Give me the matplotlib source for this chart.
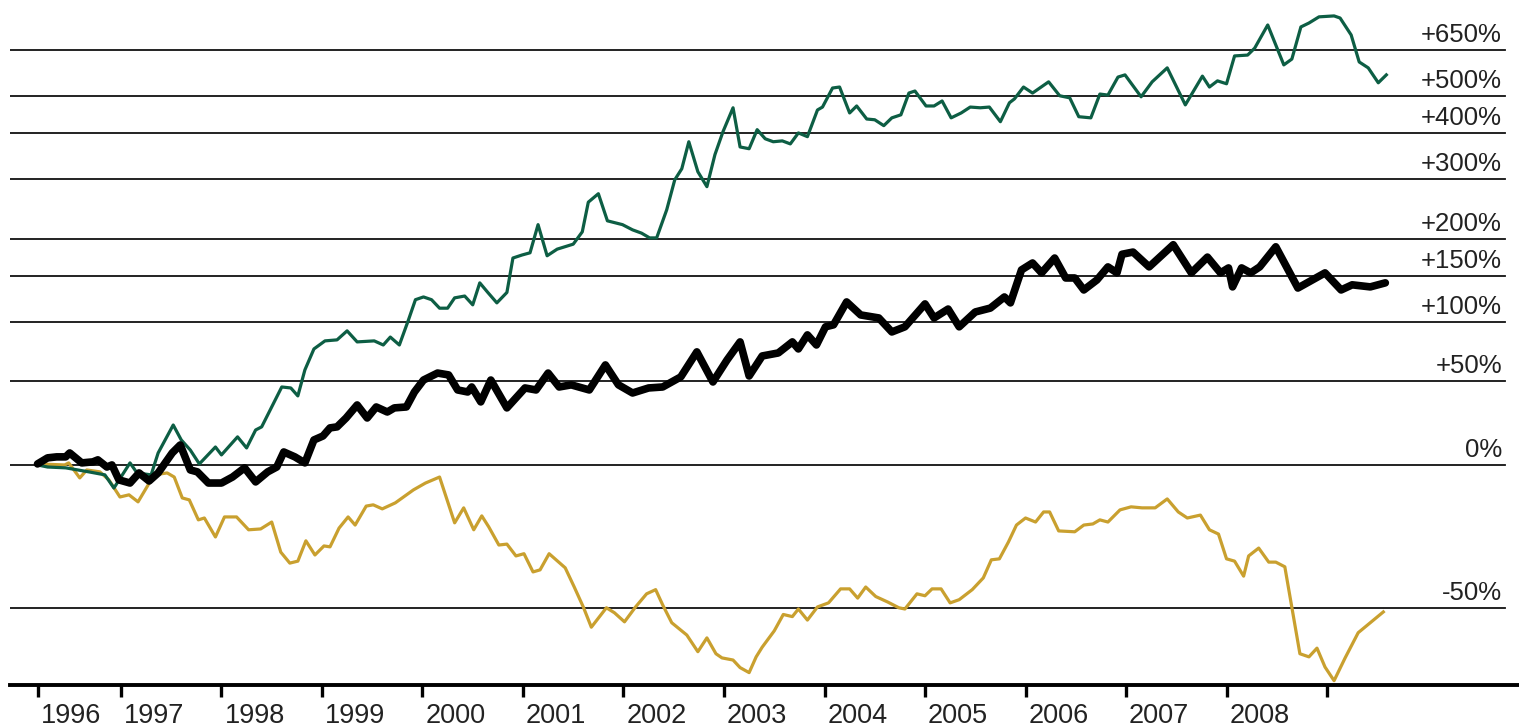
import numpy as np
import matplotlib
matplotlib.use('Agg')
import matplotlib.pyplot as plt
from matplotlib.ticker import NullLocator
from matplotlib.transforms import ScaledTranslation, blended_transform_factory

plt.rcParams['font.family'] = ['Liberation Sans', 'DejaVu Sans']

green_years = [1996.17, 1996.27, 1996.45, 1996.68, 1996.84, 1996.93, 1997.09, 1997.16, 1997.30, 1997.37,
               1997.52, 1997.60, 1997.69, 1997.78, 1997.94, 1998.00, 1998.16, 1998.25, 1998.34, 1998.40,
               1998.60, 1998.69, 1998.76, 1998.83, 1998.92, 1999.03, 1999.15, 1999.25, 1999.35, 1999.52,
               1999.61, 1999.68, 1999.77, 1999.86, 1999.93, 2000.01, 2000.09, 2000.17, 2000.25, 2000.32,
               2000.42, 2000.50, 2000.57, 2000.65, 2000.74, 2000.84, 2000.90, 2000.99, 2001.07, 2001.15,
               2001.24, 2001.34, 2001.50, 2001.59, 2001.65, 2001.75, 2001.84, 2001.99, 2002.09, 2002.18,
               2002.26, 2002.33, 2002.43, 2002.51, 2002.58, 2002.65, 2002.74, 2002.83, 2002.91, 2002.99,
               2003.09, 2003.16, 2003.25, 2003.33, 2003.41, 2003.49, 2003.58, 2003.66, 2003.74, 2003.83,
               2003.93, 2003.98, 2004.08, 2004.15, 2004.25, 2004.32, 2004.42, 2004.50, 2004.59, 2004.67,
               2004.76, 2004.84, 2004.90, 2005.01, 2005.09, 2005.17, 2005.26, 2005.36, 2005.45, 2005.55,
               2005.64, 2005.75, 2005.84, 2005.89, 2005.98, 2006.07, 2006.23, 2006.34, 2006.44, 2006.53,
               2006.65, 2006.74, 2006.82, 2006.92, 2006.99, 2007.15, 2007.26, 2007.41, 2007.59, 2007.76,
               2007.83, 2007.91, 2008.00, 2008.08, 2008.21, 2008.28, 2008.41, 2008.57, 2008.65, 2008.74,
               2008.82, 2008.92, 2009.07, 2009.13, 2009.24, 2009.32, 2009.41, 2009.51, 2009.59]
green_pct = [0, -1, -1.4, -3.3, -4.7, -10.6, 1, -3.8, -4.7, 6,
             21.4, 12.9, 7.5, 0.5, 9.1, 5, 14.6, 8.6, 18.5, 20.3,
             46, 45.3, 39.8, 58.6, 75.6, 82.6, 83.5, 91.7, 81.7, 82.6,
             79, 86, 79, 102, 123, 126, 123, 114, 114, 125,
             127, 117.5, 142, 131, 119.6, 131, 173, 177, 180, 221,
             176, 185, 192, 210, 258, 273, 227, 221, 213, 208,
             201, 201, 245, 299, 321, 380, 315, 286, 351, 404,
             466, 368, 364, 409, 387, 380, 382, 375, 401, 392,
             460, 468, 523, 526, 452, 471, 436, 434, 419, 439,
             447, 508, 514, 471, 471, 485, 439, 452, 468, 466,
             468, 429, 480, 491, 526, 508, 542, 500, 494, 442,
             439, 505, 502, 557, 564, 497, 542, 587, 474, 560,
             526, 545, 536, 628, 631, 656, 746, 597, 617, 738,
             754, 780, 784, 775, 706, 607, 587, 539, 564]

black_years = [1996.17, 1996.27, 1996.36, 1996.45, 1996.49, 1996.61, 1996.72, 1996.77, 1996.86, 1996.91,
               1996.98, 1997.09, 1997.18, 1997.28, 1997.37, 1997.51, 1997.59, 1997.69, 1997.76, 1997.87,
               1998.00, 1998.11, 1998.23, 1998.34, 1998.46, 1998.55, 1998.62, 1998.73, 1998.83, 1998.92,
               1999.01, 1999.08, 1999.15, 1999.24, 1999.35, 1999.45, 1999.54, 1999.65, 1999.72, 1999.84,
               1999.92, 2000.01, 2000.15, 2000.26, 2000.35, 2000.45, 2000.49, 2000.58, 2000.68, 2000.84,
               2001.02, 2001.13, 2001.25, 2001.36, 2001.48, 2001.66, 2001.82, 2001.95, 2002.09, 2002.25,
               2002.39, 2002.57, 2002.73, 2002.89, 2003.03, 2003.16, 2003.25, 2003.38, 2003.54, 2003.68,
               2003.74, 2003.83, 2003.92, 2004.01, 2004.09, 2004.22, 2004.36, 2004.54, 2004.67, 2004.80,
               2005.00, 2005.09, 2005.23, 2005.34, 2005.50, 2005.65, 2005.79, 2005.85, 2005.96, 2006.07,
               2006.16, 2006.29, 2006.40, 2006.49, 2006.58, 2006.71, 2006.82, 2006.91, 2006.96, 2007.07,
               2007.23, 2007.47, 2007.65, 2007.81, 2007.94, 2008.02, 2008.06, 2008.15, 2008.24, 2008.33,
               2008.49, 2008.71, 2008.98, 2009.14, 2009.25, 2009.43, 2009.58]
black_pct = [0.5, 3.5, 4, 4, 6, 1, 1.5, 2.5, -1, 0,
             -7, -8.4, -3.8, -7.5, -3.8, 6, 10.2, -2.4, -3.3, -8.4,
             -8.4, -5.7, -1.4, -7.9, -3.3, -1, 6.5, 4, 1, 12.9,
             15.1, 19.7, 20.3, 25.6, 33.8, 25.6, 32.5, 29.3, 31.9, 32.5,
             42.5, 51, 56.2, 54.8, 43.9, 42.5, 46, 35.8, 51, 31.9,
             45.3, 43.9, 56.2, 46, 47.5, 43.9, 62.5, 47.5, 41.8, 45.3,
             46, 53.3, 73.1, 49.6, 66.4, 81.7, 54, 69.7, 72.2, 81.7,
             75.6, 88, 79, 95.5, 97.4, 120.6, 107.1, 104.1, 90.7, 95.5,
             118.5, 104.1, 113.1, 95.5, 110.1, 114.1, 126, 119.6, 157.7, 166.5,
             154, 173, 147.8, 147.8, 133.8, 145.4, 161.5, 154, 178, 181,
             161.5, 191.2, 154, 174.2, 154, 160.2, 137.3, 160.2, 154, 161.5,
             188.3, 136, 154, 133.8, 139.7, 137.3, 142]

gold_years = [1996.17, 1996.44, 1996.48, 1996.59, 1996.66, 1996.79, 1996.88, 1996.99, 1997.08, 1997.17,
              1997.33, 1997.46, 1997.53, 1997.61, 1997.68, 1997.77, 1997.83, 1997.94, 1998.03, 1998.15,
              1998.27, 1998.39, 1998.50, 1998.59, 1998.68, 1998.76, 1998.84, 1998.93, 1999.02, 1999.08,
              1999.17, 1999.26, 1999.33, 1999.44, 1999.51, 1999.60, 1999.73, 1999.91, 2000.03, 2000.17,
              2000.32, 2000.41, 2000.51, 2000.59, 2000.66, 2000.76, 2000.84, 2000.93, 2001.01, 2001.10,
              2001.17, 2001.26, 2001.42, 2001.51, 2001.60, 2001.68, 2001.83, 2001.91, 2002.01, 2002.12,
              2002.23, 2002.32, 2002.39, 2002.48, 2002.63, 2002.74, 2002.83, 2002.92,
              2002.98, 2003.09, 2003.16, 2003.25, 2003.32, 2003.38, 2003.50, 2003.59, 2003.68, 2003.74,
              2003.83, 2003.93, 2004.04, 2004.16, 2004.25, 2004.33, 2004.41, 2004.51, 2004.63, 2004.74,
              2004.80, 2004.92, 2005.00, 2005.07, 2005.16, 2005.25, 2005.34, 2005.47, 2005.58, 2005.66,
              2005.74, 2005.83, 2005.91, 2006.00, 2006.10, 2006.18, 2006.24, 2006.33, 2006.49, 2006.58,
              2006.67, 2006.74, 2006.82, 2006.94, 2007.05, 2007.16, 2007.29, 2007.41, 2007.52, 2007.61,
              2007.74, 2007.83, 2007.92, 2008.00, 2008.08, 2008.17, 2008.22, 2008.32, 2008.42, 2008.49,
              2008.58, 2008.73, 2008.82, 2008.90, 2008.98, 2009.07, 2009.18, 2009.31, 2009.43, 2009.56]
gold_pct = [0.5, 0, 1, -6.1, -2.4, -3.3, -7, -14.4, -13.5, -16.4,
            -4.7, -3.8, -5.7, -14.8, -15.6, -23.4, -22.7, -29.5, -22.3, -22.3,
            -27, -26.7, -24.2, -34.5, -37.9, -37.3, -30.8, -35.4, -32.5, -32.8,
            -26.4, -22.3, -25.3, -18.1, -17.6, -19.2, -16.8, -11.4, -8.4, -5.7,
            -24.5, -18.8, -27, -21.9, -26, -32.2, -31.9, -35.7, -35, -40.5,
            -39.9, -35, -39.3, -44.7, -49.8, -54.5, -50, -51.2, -53.3, -49.8,
            -46.5, -45.4, -49.3, -53.5, -56.2, -59.6, -56.8, -60.0,
            -60.8, -61.2, -62.6, -63.5, -60.6, -58.7, -55.3, -51.6, -52.1, -50.3,
            -52.9, -49.8, -48.8, -45.2, -45.2, -47.6, -44.7, -47.2, -48.6, -50,
            -50.3, -46.5, -47, -45.2, -45.2, -48.8, -48, -45.4, -42.2, -36.9,
            -36.6, -31.2, -25.3, -22.7, -24.2, -20.4, -20.4, -27.4, -27.7, -25.3,
            -24.9, -23.4, -24.2, -19.6, -18.4, -18.8, -18.8, -15.2, -20.4, -22.7,
            -21.6, -27, -28.5, -36.6, -37.3, -41.7, -35.7, -33.2, -37.6, -37.6,
            -39, -60, -60.6, -58.9, -62.5, -64.9, -60.8, -55.7, -53.5, -51]

grid_levels = [-50, 0, 50, 100, 150, 200, 300, 400, 500, 650]
grid_labels = ['-50%', '0%', '+50%', '+100%', '+150%', '+200%', '+300%', '+400%', '+500%', '+650%']

tick_years = [1996.17, 1997, 1998, 1999, 2000, 2001, 2002, 2003, 2004, 2005, 2006, 2007, 2008, 2009]
tick_labels = ['1996', '1997', '1998', '1999', '2000', '2001', '2002', '2003', '2004', '2005',
               '2006', '2007', '2008', '']

W, H = 1519, 727
fig = plt.figure(figsize=(W / 100, H / 100), dpi=100)
ax = fig.add_axes([10 / W, 42 / H, 1 - 10 / W, 1 - 42 / H])
ax.set_yscale('log')
ax.set_xlim(1995.896, 2010.910)
ax.set_ylim(0.3437, 9.55)

# Gitterlinien mit Beschriftung rechts
trans = blended_transform_factory(ax.transAxes, ax.transData)
for lev, lab in zip(grid_levels, grid_labels):
    ax.axhline(1 + lev / 100, xmin=0, xmax=1495 / 1509, color='#111111', lw=1.3, zorder=1)
    ax.annotate(lab, xy=(1492 / 1509, 1 + lev / 100), xycoords=trans,
                xytext=(0, 15), textcoords='offset pixels',
                ha='right', va='center', fontsize=18.5, color='#222222')

ax.plot(gold_years, 1 + np.array(gold_pct) / 100, color='#c9a02f', lw=2.3, zorder=3,
        solid_joinstyle='round')
ax.plot(green_years, 1 + np.array(green_pct) / 100, color='#0d5e44', lw=2.3, zorder=4,
        solid_joinstyle='round')
ax.plot(black_years, 1 + np.array(black_pct) / 100, color='black', lw=5.5, zorder=5,
        solid_joinstyle='round', solid_capstyle='round')

# Achsen
for side in ['top', 'right', 'left']:
    ax.spines[side].set_visible(False)
ax.spines['bottom'].set_linewidth(2.8)
ax.yaxis.set_major_locator(NullLocator())
ax.yaxis.set_minor_locator(NullLocator())
ax.xaxis.set_minor_locator(NullLocator())
ax.set_xticks(tick_years)
ax.set_xticklabels(tick_labels)
ax.tick_params(axis='x', direction='out', length=8.6, width=2.4, pad=4.5,
               labelsize=19.5, labelcolor='#222222')
for lab in ax.get_xticklabels():
    lab.set_ha('left')
    lab.set_transform(lab.get_transform() + ScaledTranslation(3 / 100, 0, fig.dpi_scale_trans))

fig.savefig('out.png', dpi=100)
